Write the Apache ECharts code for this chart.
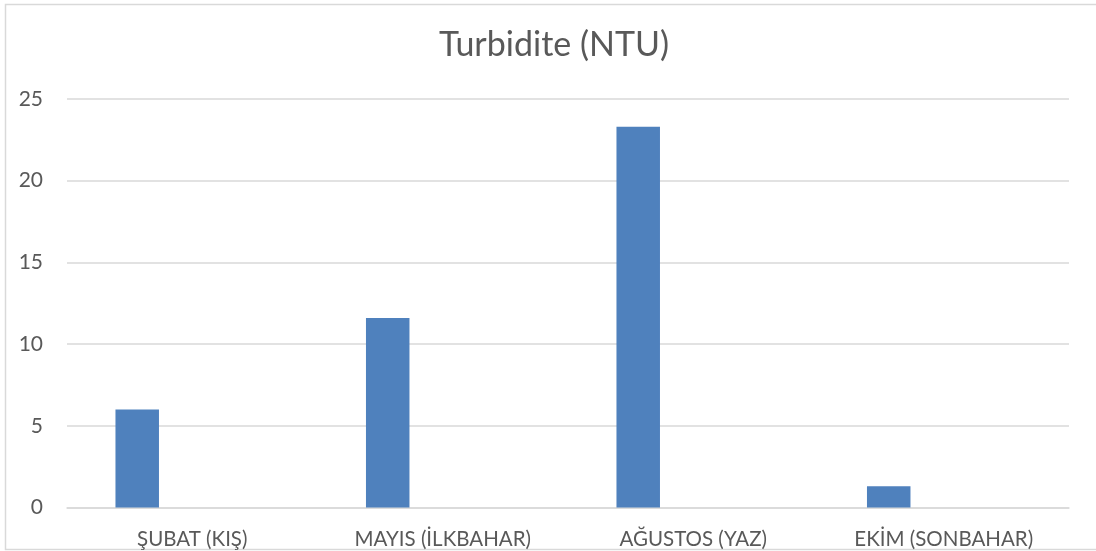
<!DOCTYPE html>
<html>
<head>
<meta charset="utf-8">
<script src="https://cdn.jsdelivr.net/npm/echarts@6/dist/echarts.min.js"></script>
<style>
  html, body { margin: 0; padding: 0; background: #fff; }
  #chart { width: 1096px; height: 551px; }
</style>
</head>
<body>
<div id="chart"></div>
<script>
let categories = ['ŞUBAT (KIŞ)', 'MAYIS (İLKBAHAR)', 'AĞUSTOS (YAZ)', 'EKİM (SONBAHAR)'];
let turbidity = [6.0, 11.6, 23.3, 1.3];
// second (empty) series, keeps the bars shifted left like the original
let emptySeries = ['-', '-', '-', '-'];
let yTicks = [0, 5, 10, 15, 20, 25];

let myChart = echarts.init(document.getElementById('chart'));
let font = 'Lato, "Open Sans", sans-serif';
let option = {
    animation: false,
    title: {
        text: 'Turbidite (NTU)',
        left: 549,
        textAlign: 'center',
        top: 23,
        textStyle: {
            fontFamily: font,
            fontSize: 34,
            fontWeight: 'normal',
            color: '#595959'
        }
    },
    graphic: [{
        type: 'rect',
        shape: { x: 5.5, y: 4.5, width: 1200, height: 545 },
        style: { fill: 'none', stroke: '#d9d9d9', lineWidth: 1.5 },
        silent: true
    }],
    grid: {
        left: 67,
        right: 27,
        top: 99,
        bottom: 43.5
    },
    xAxis: {
        type: 'category',
        data: categories,
        axisLine: { lineStyle: { color: '#d9d9d9', width: 1.5 } },
        axisTick: { show: false },
        axisLabel: {
            fontFamily: font,
            fontSize: 20.5,
            color: '#595959',
            margin: 21
        }
    },
    yAxis: {
        type: 'value',
        min: yTicks[0],
        max: yTicks[yTicks.length - 1],
        interval: 5,
        axisLine: { show: false },
        axisTick: { show: false },
        splitLine: { lineStyle: { color: '#d9d9d9', width: 1.5 } },
        axisLabel: {
            fontFamily: font,
            fontSize: 21,
            color: '#595959',
            margin: 24
        }
    },
    series: [
        {
            name: 'Turbidite (NTU)',
            type: 'bar',
            data: turbidity,
            barWidth: 43.5,
            barGap: '153%',
            itemStyle: { color: '#4f81bd' }
        },
        {
            name: '',
            type: 'bar',
            data: emptySeries,
            barWidth: 43.5,
            itemStyle: { color: '#c0504d' }
        }
    ]
};
myChart.setOption(option);
</script>
</body>
</html>
